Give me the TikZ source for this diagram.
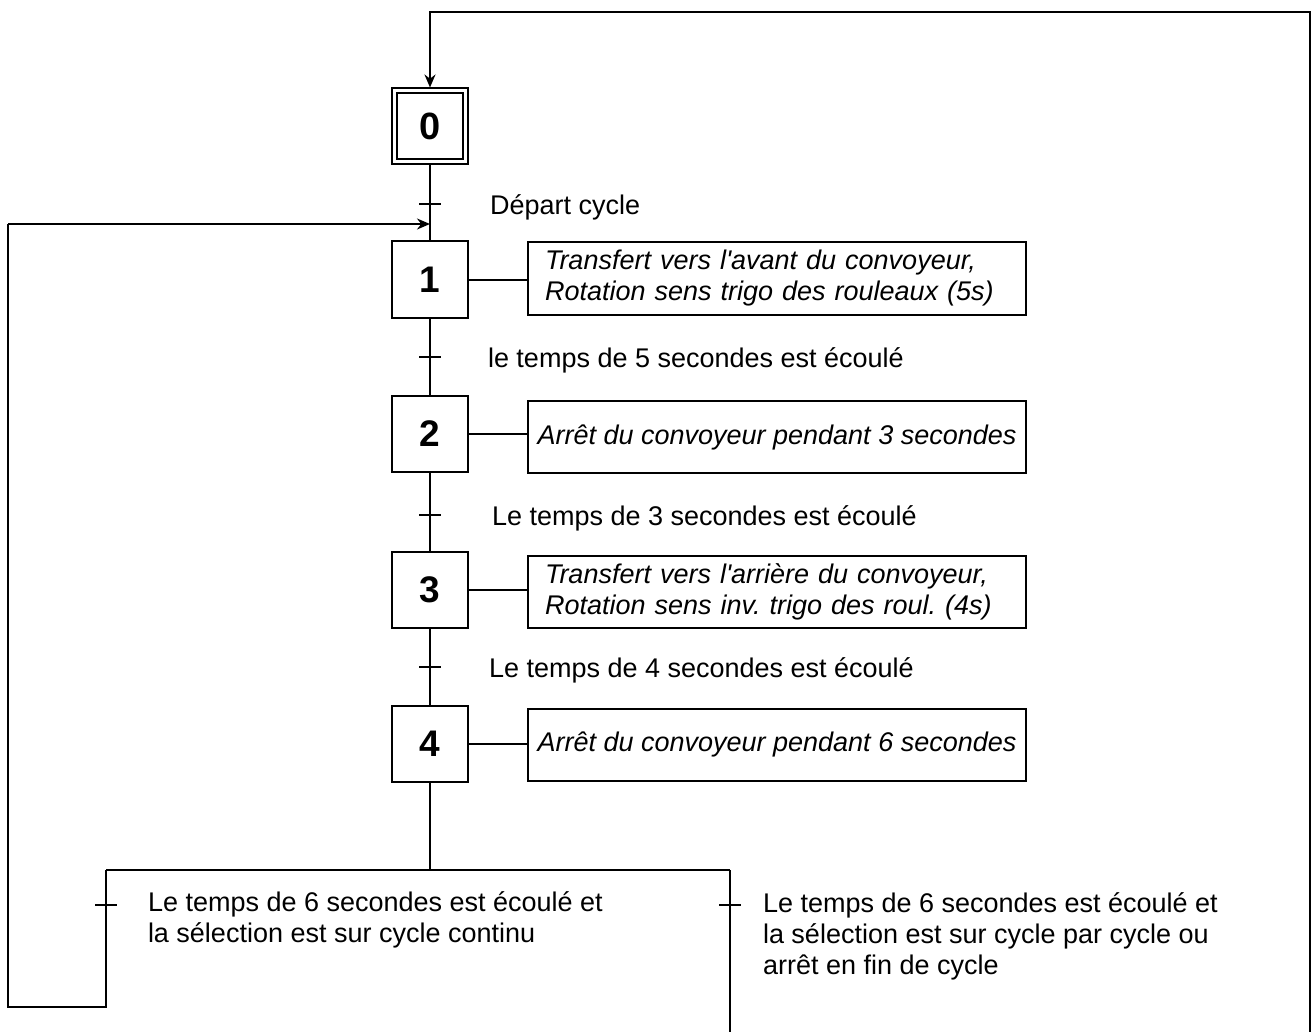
\documentclass[tikz,border=0pt]{standalone}
\usepackage{fontspec}
\setmainfont{Liberation Sans}
\usetikzlibrary{arrows.meta}
\frenchspacing
\begin{document}
\begin{tikzpicture}[x=1pt,y=-1pt,
  every path/.style={line width=2pt},
  stepbox/.style={draw,line width=2pt,minimum size=76pt,inner sep=0pt,font=\fontsize{37}{40}\selectfont\bfseries},
  innerbox/.style={draw,line width=2pt,minimum size=66pt,inner sep=0pt},
  actbox/.style={draw,line width=2pt,minimum width=498pt,minimum height=72pt,inner sep=0pt,align=center,font=\fontsize{27}{31}\selectfont\itshape},
  actwide/.style={text width=464pt,inner xsep=17pt,align=left},
  lbl/.style={anchor=west,inner sep=0pt,align=left,font=\fontsize{27}{31}\selectfont},
  arr/.style={-{Stealth[length=13pt,width=11pt]}}
]
\useasboundingbox (0,0) rectangle (1313,1032);

% steps
\node[stepbox] (s0) at (430,126.5) {};
\node[innerbox] (s0in) at (430,126.5) {};
\node[font=\fontsize{38}{40}\selectfont\bfseries] (s0lab) at (s0) {0};
\node[stepbox] (s1) at (430,279.5) {1};
\node[stepbox] (s2) at (430,434) {2};
\node[stepbox] (s3) at (430,590) {3};
\node[stepbox] (s4) at (430,743.5) {4};

% actions
\node[actbox,actwide] (a1) at (777,278.5) {\raisebox{-3pt}{\parbox{464pt}{Transfert vers l\textquotesingle avant du convoyeur,\\Rotation sens trigo des rouleaux (5s)}}};
\node[actbox] (a2) at (777,437) {Arrêt du convoyeur pendant 3 secondes};
\node[actbox,actwide] (a3) at (777,592) {\raisebox{-3pt}{\parbox{464pt}{Transfert vers l\textquotesingle arrière du convoyeur,\\Rotation sens inv. trigo des roul. (4s)}}};
\node[actbox] (a4) at (777,744.5) {Arrêt du convoyeur pendant 6 secondes};

\foreach \i in {1,2,3,4}{
  \draw (s\i.east) -- (s\i.east -| a\i.west);
}

% coordinates
\coordinate (t0) at (430,204);
\coordinate (t1) at (430,357);
\coordinate (t2) at (430,515);
\coordinate (t3) at (430,667);
\coordinate (merge) at (430,224);
\coordinate (top) at (430,12);
\coordinate (topR) at (1310,12);
\coordinate (botR) at (1310,1032);
\coordinate (div) at (430,870);
\coordinate (divL) at (106,870);
\coordinate (divR) at (730,870);
\coordinate (t4L) at (106,905);
\coordinate (t4R) at (730,905);
\coordinate (loopB) at (106,1007);
\coordinate (loopBL) at (8,1007);
\coordinate (loopTL) at (8,224);
\coordinate (endR) at (730,1032);

% main vertical links
\draw (s0.south) -- (s1.north);
\draw (s1.south) -- (s2.north);
\draw (s2.south) -- (s3.north);
\draw (s3.south) -- (s4.north);
\draw (s4.south) -- (div);

% top return
\draw[arr] (botR) -- (topR) -- (top) -- (s0.north);

% divergence
\draw (divL) -- (divR);
\draw (divR) -- (endR);
\draw (divL) -- (loopB) -- (loopBL) -- (loopTL);
\draw[arr] (loopTL) -- (merge);

% transition ticks
\foreach \t in {t0,t1,t2,t3,t4L,t4R}{
  \draw (\t) ++(-11,0) -- ++(22,0);
}

% transition labels
\node[lbl] (l0) at (489,207) {Départ cycle};
\node[lbl] (l1) at (487,360) {le temps de 5 secondes est écoulé};
\node[lbl] (l2) at (491,518) {Le temps de 3 secondes est écoulé};
\node[lbl] (l3) at (488,670) {Le temps de 4 secondes est écoulé};
\node[lbl] (l4L) at (147,920) {Le temps de 6 secondes est écoulé et\\la sélection est sur cycle continu};
\node[lbl] (l4R) at (762,936) {Le temps de 6 secondes est écoulé et\\la sélection est sur cycle par cycle ou\\arrêt en fin de cycle};
\end{tikzpicture}
\end{document}
